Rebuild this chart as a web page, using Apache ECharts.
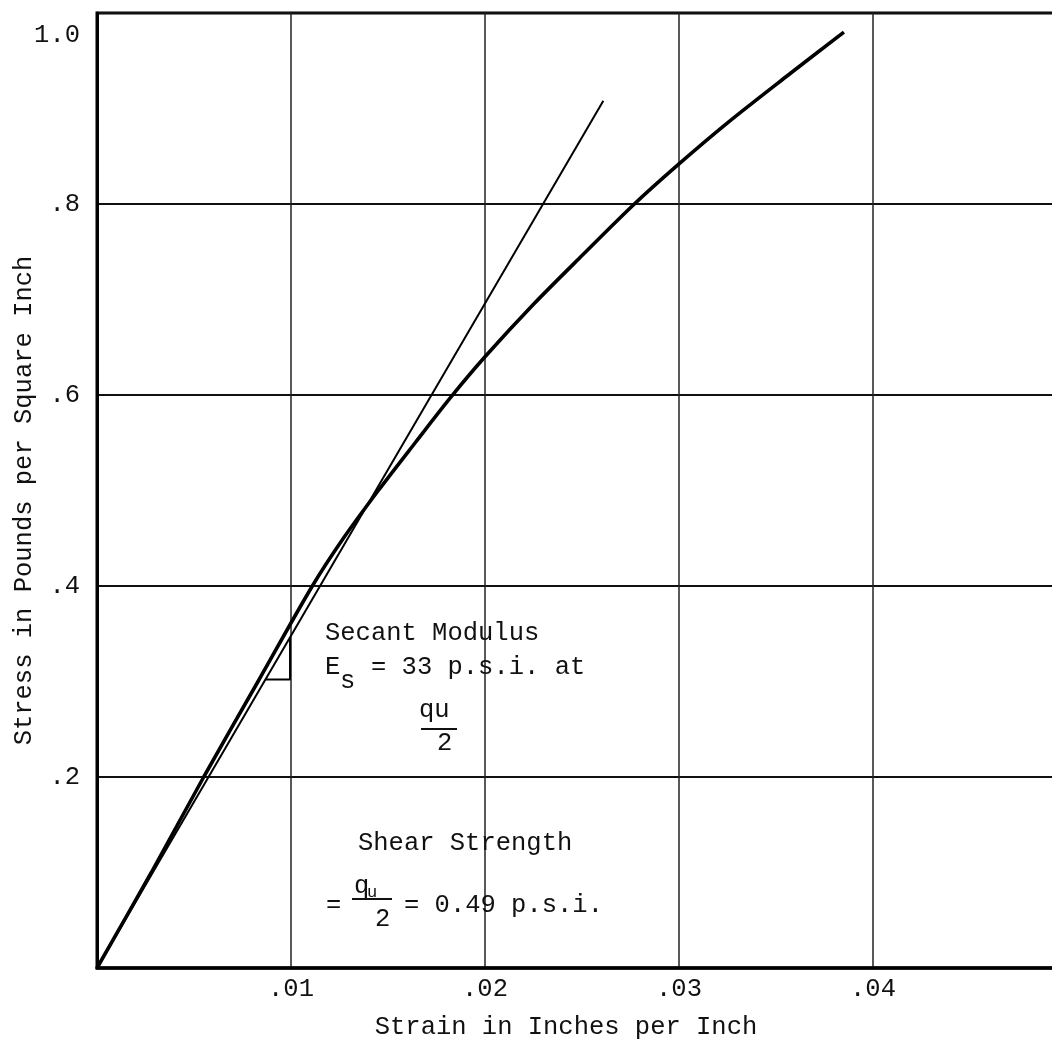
<!DOCTYPE html>
<html>
<head>
<meta charset="utf-8">
<title>Stress-Strain Curve</title>
<script src="https://cdn.jsdelivr.net/npm/echarts@6/dist/echarts.min.js"></script>
<style>
  html, body { margin: 0; padding: 0; background: #fff; }
  #chart { width: 1052px; height: 1044px; }
</style>
</head>
<body>
<div id="chart"></div>
<script>
// Unconfined compression test: measured stress-strain curve
const strain = [0, 0.0028, 0.0055, 0.0083, 0.0111, 0.0127, 0.0145, 0.0164, 0.01825,
                0.0200, 0.0225, 0.0250, 0.0277, 0.0300, 0.0325, 0.0355, 0.0385];
const stress = [0, 0.100, 0.200, 0.300, 0.400, 0.450, 0.500, 0.550, 0.598,
                0.640, 0.695, 0.746, 0.800, 0.842, 0.885, 0.933, 0.980];

// Secant line through the origin and the half-strength point
const secantStrain = [0, 0.0261];
const secantStress = [0, 0.908];

// Small slope triangle hung from the secant line
const triStrain = [0.00868, 0.00995, 0.00995];
const triStress = [0.302, 0.302, 0.346];

// Tick labels
const xTickLabels = ['', '.01', '.02', '.03', '.04', ''];
const yTickLabels = ['', '.2', '.4', '.6', '.8', '1.0'];

const FONT = '"Liberation Mono", "DejaVu Sans Mono", monospace';
const FS = 25.5;

function pairs(xs, ys) { return xs.map((x, i) => [x, ys[i]]); }

const chart = echarts.init(document.getElementById('chart'), null, { renderer: 'canvas' });

const tstyle = (text, size) => ({
  text: text, font: (size || FS) + 'px ' + FONT, fill: '#111', align: 'left', verticalAlign: 'middle'
});
const txt = (text, x, y, size) => ({ type: 'text', x: x, y: y, z: 100, style: tstyle(text, size) });
const bar = (x1, x2, y) => ({
  type: 'line', z: 100,
  shape: { x1: x1, y1: y, x2: x2, y2: y },
  style: { stroke: '#111', lineWidth: 2 }
});

chart.setOption({
  animation: false,
  backgroundColor: '#fff',
  grid: {
    left: 97, top: 13, right: -15, bottom: 76,
    containLabel: false, outerBoundsMode: 'none',
    show: true, borderColor: '#000', borderWidth: 3
  },
  xAxis: {
    type: 'value', min: 0, max: 0.05, interval: 0.01,
    name: 'Strain in Inches per Inch', nameLocation: 'middle', nameGap: 46, nameMoveOverlap: false,
    nameTextStyle: { fontFamily: FONT, fontSize: FS, color: '#111', padding: [0, 32, 0, 0] },
    axisLine: { show: true, lineStyle: { color: '#000', width: 3.5 } },
    axisTick: { show: false },
    axisLabel: {
      margin: 8, fontFamily: FONT, fontSize: FS, color: '#111',
      formatter: (v) => xTickLabels[Math.round(v / 0.01)] || ''
    },
    splitLine: { show: true, lineStyle: { color: '#222', width: 1.5 } }
  },
  yAxis: {
    type: 'value', min: 0, max: 1.0, interval: 0.2,
    name: 'Stress in Pounds per Square Inch', nameLocation: 'middle', nameGap: 60, nameMoveOverlap: false,
    nameTextStyle: { fontFamily: FONT, fontSize: FS, color: '#111', padding: [0, 20, 0, 0] },
    axisLine: { show: true, lineStyle: { color: '#000', width: 3 } },
    axisTick: { show: false },
    axisLabel: {
      margin: 17, fontFamily: FONT, fontSize: FS, color: '#111',
      formatter: (v) => {
        const i = Math.round(v / 0.2);
        const s = yTickLabels[i] || '';
        return i === yTickLabels.length - 1 ? '{hi|' + s + '}' : s;
      },
      rich: { hi: { fontFamily: FONT, fontSize: FS, color: '#111', padding: [44, 0, 0, 0] } }
    },
    splitLine: { show: true, lineStyle: { color: '#111', width: 2 } }
  },
  series: [
    {
      type: 'line', data: pairs(strain, stress), smooth: 0.3,
      showSymbol: false, symbol: 'none',
      lineStyle: { color: '#000', width: 3.6 }, z: 5
    },
    {
      type: 'line', data: pairs(secantStrain, secantStress), showSymbol: false, symbol: 'none',
      lineStyle: { color: '#000', width: 2 }, z: 4
    },
    {
      type: 'line', data: pairs(triStrain, triStress), showSymbol: false, symbol: 'none',
      lineStyle: { color: '#000', width: 2 }, z: 4
    }
  ],
  graphic: [
    txt('Secant Modulus', 325, 633),
    txt('E', 325, 667),
    txt('s', 340, 681),
    txt('= 33 p.s.i. at', 371, 667),
    txt('qu', 419, 710),
    bar(421, 457, 729),
    txt('2', 437, 743),
    txt('Shear Strength', 358, 843),
    txt('=', 326, 905),
    txt('q', 354, 886),
    txt('u', 367, 892, 17),
    bar(352, 392, 899),
    txt('2', 375, 919),
    txt('= 0.49 p.s.i.', 404, 905)
  ]
});
</script>
</body>
</html>
